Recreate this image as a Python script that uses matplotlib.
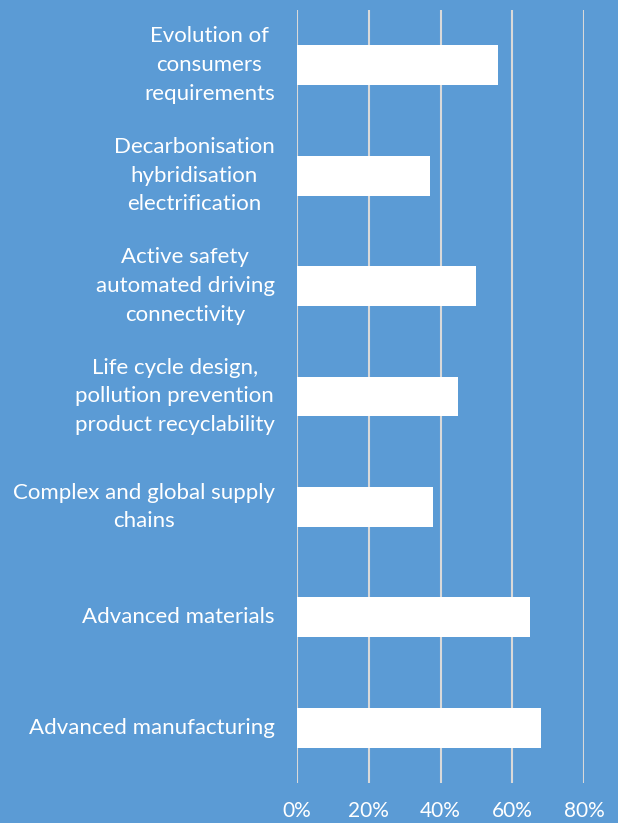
import matplotlib.pyplot as plt

# categories from top to bottom
categories = [
    'Evolution of\nconsumers\nrequirements',
    'Decarbonisation\nhybridisation\nelectrification',
    'Active safety\nautomated driving\nconnectivity',
    'Life cycle design,\npollution prevention\nproduct recyclability',
    'Complex and global supply\nchains',
    'Advanced materials',
    'Advanced manufacturing',
]
values = [56, 37, 50, 45, 38, 65, 68]
xticks = [0, 20, 40, 60, 80]
xtick_labels = ['0%', '20%', '40%', '60%', '80%']

bg = '#5B9BD5'
plt.rcParams['font.family'] = ['Lato', 'DejaVu Sans']

fig = plt.figure(figsize=(6.18, 8.23), dpi=100, facecolor=bg)
ax = fig.add_axes([297 / 618, 1 - 783 / 823, (584 - 297) / 618, 773 / 823])
ax.set_facecolor(bg)

pos = list(range(len(categories)))
ax.barh(pos, values, height=0.36, color='white', zorder=3)
ax.set_ylim(len(categories) - 0.5, -0.5)
ax.set_xlim(0, 80)

ax.set_xticks(xticks)
ax.set_xticklabels(xtick_labels, fontsize=15, color='white')
ax.set_yticks(pos)
ax.set_yticklabels(categories, fontsize=16, color='white', va='center',
                   multialignment='center', linespacing=1.55)

ax.grid(axis='x', color='#D9D9D9', linewidth=1.5, zorder=0)
ax.tick_params(axis='both', length=0)
ax.tick_params(axis='y', pad=16)
ax.tick_params(axis='x', pad=13)
for s in ax.spines.values():
    s.set_visible(False)

fig.savefig('out.png', facecolor=bg)
